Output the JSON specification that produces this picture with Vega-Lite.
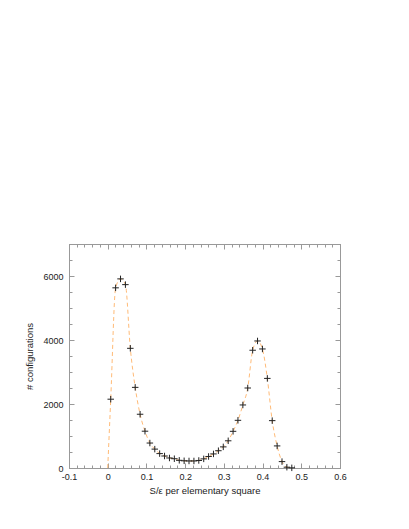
{
  "$schema": "https://vega.github.io/schema/vega-lite/v6.json",
  "width": 271,
  "height": 224,
  "autosize": {"type": "none"},
  "padding": {"left": 69, "top": 244, "right": 69, "bottom": 61},
  "background": "white",
  "config": {
    "view": {"stroke": "#999999", "strokeWidth": 1},
    "font": "Liberation Sans",
    "axis": {
      "grid": false,
      "domainColor": "#999999",
      "tickColor": "#999999",
      "labelColor": "#222222",
      "titleColor": "#222222",
      "labelFontSize": 9,
      "titleFontSize": 9.5,
      "titleFontWeight": "normal",
      "labelFont": "Liberation Sans",
      "titleFont": "Liberation Sans"
    }
  },
  "datasets": {
    "pts": [
      {"x": 0.0078, "count": 2150},
      {"x": 0.0204, "count": 5630},
      {"x": 0.0331, "count": 5910},
      {"x": 0.0457, "count": 5730},
      {"x": 0.0584, "count": 3740},
      {"x": 0.0710, "count": 2520},
      {"x": 0.0836, "count": 1680},
      {"x": 0.0963, "count": 1150},
      {"x": 0.1089, "count": 780},
      {"x": 0.1216, "count": 590},
      {"x": 0.1342, "count": 450},
      {"x": 0.1468, "count": 375},
      {"x": 0.1595, "count": 313},
      {"x": 0.1721, "count": 290},
      {"x": 0.1848, "count": 240},
      {"x": 0.1974, "count": 225},
      {"x": 0.2100, "count": 220},
      {"x": 0.2227, "count": 220},
      {"x": 0.2353, "count": 235},
      {"x": 0.2480, "count": 285},
      {"x": 0.2606, "count": 360},
      {"x": 0.2732, "count": 440},
      {"x": 0.2859, "count": 540},
      {"x": 0.2985, "count": 660},
      {"x": 0.3112, "count": 850},
      {"x": 0.3238, "count": 1146},
      {"x": 0.3364, "count": 1490},
      {"x": 0.3491, "count": 1970},
      {"x": 0.3617, "count": 2500},
      {"x": 0.3744, "count": 3680},
      {"x": 0.3870, "count": 3970},
      {"x": 0.3996, "count": 3720},
      {"x": 0.4123, "count": 2800},
      {"x": 0.4249, "count": 1480},
      {"x": 0.4376, "count": 690},
      {"x": 0.4502, "count": 200},
      {"x": 0.4628, "count": 25},
      {"x": 0.4755, "count": 5}
    ],
    "curve": [
      {"x": 0.0, "count": 0},
      {"x": 0.0078, "count": 2150},
      {"x": 0.0204, "count": 5630},
      {"x": 0.0331, "count": 5910},
      {"x": 0.0457, "count": 5730},
      {"x": 0.0584, "count": 3740},
      {"x": 0.0710, "count": 2520},
      {"x": 0.0836, "count": 1680},
      {"x": 0.0963, "count": 1150},
      {"x": 0.1089, "count": 780},
      {"x": 0.1216, "count": 590},
      {"x": 0.1342, "count": 450},
      {"x": 0.1468, "count": 375},
      {"x": 0.1595, "count": 313},
      {"x": 0.1721, "count": 290},
      {"x": 0.1848, "count": 240},
      {"x": 0.1974, "count": 225},
      {"x": 0.2100, "count": 220},
      {"x": 0.2227, "count": 220},
      {"x": 0.2353, "count": 235},
      {"x": 0.2480, "count": 285},
      {"x": 0.2606, "count": 360},
      {"x": 0.2732, "count": 440},
      {"x": 0.2859, "count": 540},
      {"x": 0.2985, "count": 660},
      {"x": 0.3112, "count": 850},
      {"x": 0.3238, "count": 1146},
      {"x": 0.3364, "count": 1490},
      {"x": 0.3491, "count": 1970},
      {"x": 0.3617, "count": 2500},
      {"x": 0.3744, "count": 3680},
      {"x": 0.3870, "count": 3970},
      {"x": 0.3996, "count": 3720},
      {"x": 0.4123, "count": 2800},
      {"x": 0.4249, "count": 1480},
      {"x": 0.4376, "count": 690},
      {"x": 0.4502, "count": 200},
      {"x": 0.4628, "count": 25},
      {"x": 0.4755, "count": 5}
    ]
  },
  "layer": [
    {
      "data": {"name": "curve"},
      "mark": {"type": "line", "color": "#ffbb77", "strokeWidth": 1, "strokeDash": [4, 3], "interpolate": "monotone"},
      "encoding": {
        "x": {
          "field": "x", "type": "quantitative",
          "scale": {"domain": [-0.1, 0.6], "nice": false, "zero": false},
          "axis": {
            "orient": "bottom",
            "title": "S/ε  per elementary square",
            "titlePadding": 2,
            "values": [-0.1, -0.08, -0.06, -0.04, -0.02, 0, 0.02, 0.04, 0.06, 0.08, 0.1, 0.12, 0.14, 0.16, 0.18, 0.2, 0.22, 0.24, 0.26, 0.28, 0.3, 0.32, 0.34, 0.36, 0.38, 0.4, 0.42, 0.44, 0.46, 0.48, 0.5, 0.52, 0.54, 0.56, 0.58, 0.6],
            "labelExpr": "abs(datum.value*10 - round(datum.value*10)) < 0.001 ? (datum.value < 0 ? '-' : '') + format(abs(datum.value), '~g') : ''",
            "tickSize": {"condition": {"test": "abs(datum.value*10 - round(datum.value*10)) < 0.001", "value": -5}, "value": -3},
            "labelPadding": 9,
            "labelFlush": false,
            "labelOverlap": false
          }
        },
        "y": {
          "field": "count", "type": "quantitative",
          "scale": {"domain": [0, 7000], "nice": false},
          "axis": {
            "orient": "left",
            "title": "# configurations",
            "titlePadding": 8,
            "values": [0, 500, 1000, 1500, 2000, 2500, 3000, 3500, 4000, 4500, 5000, 5500, 6000, 6500, 7000],
            "labelExpr": "datum.value % 2000 == 0 ? format(datum.value, 'd') : ''",
            "tickSize": {"condition": {"test": "datum.value % 2000 == 0", "value": -5}, "value": -3},
            "labelPadding": 11,
            "labelFlush": false,
            "labelOverlap": false
          }
        }
      }
    },
    {
      "data": {"name": "pts"},
      "mark": {"type": "point", "shape": "M-1,0H1M0,-1V1", "size": 42, "filled": false, "stroke": "#222222", "strokeWidth": 1, "opacity": 1},
      "encoding": {
        "x": {
          "field": "x", "type": "quantitative",
          "axis": {
            "orient": "top", "title": null, "labels": false,
            "values": [-0.1, -0.08, -0.06, -0.04, -0.02, 0, 0.02, 0.04, 0.06, 0.08, 0.1, 0.12, 0.14, 0.16, 0.18, 0.2, 0.22, 0.24, 0.26, 0.28, 0.3, 0.32, 0.34, 0.36, 0.38, 0.4, 0.42, 0.44, 0.46, 0.48, 0.5, 0.52, 0.54, 0.56, 0.58, 0.6],
            "tickSize": {"condition": {"test": "abs(datum.value*10 - round(datum.value*10)) < 0.001", "value": -5}, "value": -3}
          }
        },
        "y": {
          "field": "count", "type": "quantitative",
          "axis": {
            "orient": "right", "title": null, "labels": false,
            "values": [0, 500, 1000, 1500, 2000, 2500, 3000, 3500, 4000, 4500, 5000, 5500, 6000, 6500, 7000],
            "tickSize": {"condition": {"test": "datum.value % 2000 == 0", "value": -5}, "value": -3}
          }
        }
      }
    }
  ],
  "resolve": {"axis": {"x": "independent", "y": "independent"}}
}
